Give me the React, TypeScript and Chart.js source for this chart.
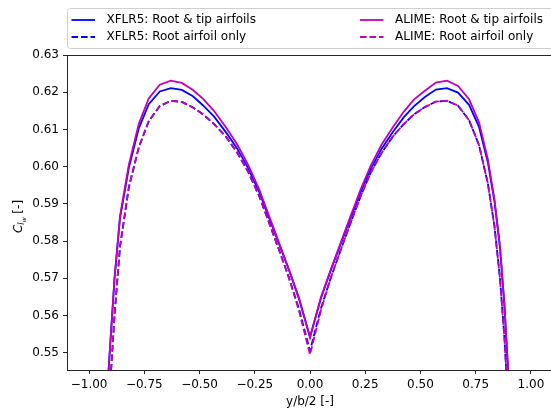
import React, { useEffect, useRef } from "react";
import { Chart, registerables } from "chart.js";

Chart.register(...registerables);

// Spanwise stations y/b/2
const spanX = [
  -1.0, -0.97, -0.94, -0.91, -0.885, -0.86, -0.82, -0.775, -0.73, -0.68, -0.63, -0.58,
  -0.53, -0.485, -0.435, -0.38, -0.33, -0.28, -0.23, -0.185, -0.14, -0.095, -0.05,
  0,
  0.05, 0.095, 0.14, 0.185, 0.23, 0.275, 0.325, 0.375, 0.425, 0.47, 0.52, 0.57,
  0.62, 0.67, 0.72, 0.765, 0.805, 0.835, 0.86, 0.88, 0.9, 0.93, 0.96, 1.0,
];

const xflrRootTip = [
  0.3, 0.45, 0.515, 0.547, 0.5698, 0.5862, 0.5997, 0.6103, 0.6168, 0.6202, 0.6211, 0.6206,
  0.6189, 0.6165, 0.6135, 0.6092, 0.6049, 0.5996, 0.5932, 0.5862, 0.5792, 0.5722, 0.5645,
  0.5543,
  0.5647, 0.5723, 0.5794, 0.5864, 0.5933, 0.5994, 0.6049, 0.6093, 0.6133, 0.6162, 0.6187, 0.6207,
  0.6211, 0.6199, 0.6166, 0.6107, 0.6012, 0.5907, 0.5783, 0.5628, 0.542, 0.49, 0.42, 0.3,
];

const xflrRootOnly = [
  0.29, 0.42, 0.495, 0.536, 0.56, 0.5785, 0.5945, 0.6052, 0.6122, 0.6163, 0.6177, 0.6174,
  0.6159, 0.6141, 0.6115, 0.608, 0.6038, 0.5986, 0.5921, 0.5849, 0.5776, 0.5701, 0.5618,
  0.5505,
  0.562, 0.5703, 0.5778, 0.5851, 0.5922, 0.5984, 0.6038, 0.6081, 0.6115, 0.614, 0.616, 0.6175,
  0.6177, 0.6164, 0.6125, 0.6058, 0.5955, 0.584, 0.57, 0.554, 0.533, 0.48, 0.41, 0.29,
];

const alimeRootTip = [
  0.3, 0.45, 0.515, 0.547, 0.57, 0.5867, 0.6005, 0.6115, 0.6183, 0.622, 0.6231, 0.6225,
  0.6206, 0.6183, 0.615, 0.6105, 0.606, 0.6005, 0.5939, 0.5867, 0.5795, 0.5723, 0.5648,
  0.554,
  0.565, 0.5725, 0.5797, 0.5869, 0.594, 0.6003, 0.606, 0.6106, 0.6148, 0.618, 0.6204, 0.6226,
  0.6231, 0.6217, 0.6181, 0.6119, 0.602, 0.5912, 0.5786, 0.563, 0.542, 0.49, 0.42, 0.3,
];

const alimeRootOnly = [
  0.29, 0.42, 0.495, 0.536, 0.56, 0.5785, 0.5945, 0.6052, 0.6122, 0.6163, 0.6177, 0.6174,
  0.6159, 0.6141, 0.6115, 0.608, 0.6038, 0.5986, 0.5921, 0.5849, 0.5776, 0.5701, 0.5613,
  0.5495,
  0.5615, 0.5703, 0.5778, 0.5851, 0.5922, 0.5984, 0.6038, 0.6081, 0.6115, 0.614, 0.616, 0.6175,
  0.6177, 0.6164, 0.6125, 0.6058, 0.5955, 0.584, 0.57, 0.554, 0.533, 0.48, 0.41, 0.29,
];

const xTicks = [-1.0, -0.75, -0.5, -0.25, 0, 0.25, 0.5, 0.75, 1.0];
const yTicks = [0.55, 0.56, 0.57, 0.58, 0.59, 0.6, 0.61, 0.62, 0.63];

const labels = [
  "XFLR5: Root & tip airfoils",
  "XFLR5: Root airfoil only",
  "ALIME: Root & tip airfoils",
  "ALIME: Root airfoil only",
];

const FONT = '"DejaVu Sans", sans-serif';
const BLUE = "#0000ff";
const MAG = "#bf00bf";
const DASH = [6.6, 2.9];
const SPINE = "#262626";

const toPts = (vals: number[]) => spanX.map((x, i) => ({ x, y: vals[i] }));

const decorPlugin = {
  id: "decor",
  afterDraw(chart: any) {
    const ctx = chart.ctx as CanvasRenderingContext2D;
    const a = chart.chartArea;
    ctx.save();
    // top spine
    ctx.strokeStyle = SPINE;
    ctx.lineWidth = 1;
    ctx.beginPath();
    ctx.moveTo(a.left, Math.round(a.top) + 0.5);
    ctx.lineTo(a.right, Math.round(a.top) + 0.5);
    ctx.stroke();

    // legend
    const lx = 67.5, ly = 8.5, lw = 486, lh = 40;
    ctx.beginPath();
    (ctx as any).roundRect(lx, ly, lw, lh, 3);
    ctx.fillStyle = "rgba(255,255,255,0.8)";
    ctx.fill();
    ctx.strokeStyle = "#d0d0d0";
    ctx.lineWidth = 1;
    ctx.stroke();
    ctx.font = `12px ${FONT}`;
    ctx.textBaseline = "middle";
    ctx.textAlign = "left";
    chart.data.datasets.forEach((ds: any, i: number) => {
      const col = i < 2 ? 0 : 1;
      const row = i % 2;
      const x0 = col ? 360 : 71.5;
      const y = row ? 37 : 20;
      ctx.strokeStyle = ds.borderColor;
      ctx.lineWidth = 1.8;
      ctx.setLineDash(ds.borderDash || []);
      ctx.beginPath();
      ctx.moveTo(x0, y);
      ctx.lineTo(x0 + 23.5, y);
      ctx.stroke();
      ctx.setLineDash([]);
      ctx.fillStyle = "#000";
      ctx.fillText(ds.label, x0 + 35, y);
    });

    // x-axis title
    ctx.fillStyle = "#000";
    ctx.font = `12px ${FONT}`;
    ctx.textAlign = "center";
    ctx.textBaseline = "middle";
    ctx.fillText("y/b/2 [-]", (a.left + a.right) / 2 - 0, 402);

    // y-axis title: C_{l_w} [-]
    const cy = (a.top + a.bottom) / 2 + 4;
    ctx.translate(17, cy);
    ctx.rotate(-Math.PI / 2);
    ctx.textAlign = "left";
    ctx.textBaseline = "alphabetic";
    const pieces = [
      { t: "C", f: `italic 12px ${FONT}`, dy: 0 },
      { t: "l", f: `italic 8.4px ${FONT}`, dy: 2.2 },
      { t: "w", f: `italic 6px ${FONT}`, dy: 4.2 },
      { t: " [-]", f: `12px ${FONT}`, dy: 0 },
    ];
    let total = 0;
    const widths = pieces.map((p) => {
      ctx.font = p.f;
      const w = ctx.measureText(p.t).width;
      total += w;
      return w;
    });
    let px = -total / 2;
    pieces.forEach((p, i) => {
      ctx.font = p.f;
      ctx.fillText(p.t, px, 4.5 + p.dy);
      px += widths[i];
    });
    ctx.restore();
  },
};

export default function App() {
  const ref = useRef<HTMLCanvasElement>(null);
  useEffect(() => {
    if (!ref.current) return;
    const chart = new Chart(ref.current, {
      type: "line",
      data: {
        datasets: [
          { label: labels[0], data: toPts(xflrRootTip), borderColor: BLUE, borderWidth: 1.8, order: 4 },
          { label: labels[1], data: toPts(xflrRootOnly), borderColor: BLUE, borderWidth: 1.8, borderDash: DASH, order: 3 },
          { label: labels[2], data: toPts(alimeRootTip), borderColor: MAG, borderWidth: 1.8, order: 2 },
          { label: labels[3], data: toPts(alimeRootOnly), borderColor: MAG, borderWidth: 1.8, borderDash: DASH, order: 1 },
        ],
      },
      options: {
        animation: false,
        responsive: false,
        maintainAspectRatio: false,
        devicePixelRatio: 1,
        layout: { padding: { top: 55, right: 47, left: 0, bottom: 0 } },
        elements: { point: { radius: 0 }, line: { tension: 0, fill: false } },
        plugins: { legend: { display: false }, tooltip: { enabled: false } },
        scales: {
          x: {
            type: "linear",
            min: -1.1,
            max: 1.1,
            afterFit: (s: any) => { s.height = 43; },
            afterBuildTicks: (s: any) => { s.ticks = xTicks.map((v) => ({ value: v })); },
            grid: { display: true, drawOnChartArea: false, drawTicks: true, tickLength: 4, color: SPINE },
            border: { display: true, color: SPINE, width: 1 },
            ticks: {
              autoSkip: false,
              maxRotation: 0,
              padding: 4,
              color: "#000",
              font: { family: FONT, size: 12 },
              callback: (v: any) => Number(v).toFixed(2).replace("-", "\u2212"),
            },
          },
          y: {
            type: "linear",
            min: 0.54535,
            max: 0.63,
            afterFit: (s: any) => { s.width = 67; },
            afterBuildTicks: (s: any) => { s.ticks = yTicks.map((v) => ({ value: v })); },
            grid: { display: true, drawOnChartArea: false, drawTicks: true, tickLength: 4, color: SPINE },
            border: { display: true, color: SPINE, width: 1 },
            ticks: {
              autoSkip: false,
              padding: 4,
              color: "#000",
              font: { family: FONT, size: 12 },
              callback: (v: any) => Number(v).toFixed(2),
            },
          },
        },
      },
      plugins: [decorPlugin],
    } as any);
    return () => chart.destroy();
  }, []);
  return (
    <div style={{ position: "fixed", left: 0, top: 0, width: 551, height: 413, overflow: "hidden", background: "#fff" }}>
      <canvas ref={ref} width={600} height={413} style={{ display: "block", width: 600, height: 413 }} />
    </div>
  );
}
